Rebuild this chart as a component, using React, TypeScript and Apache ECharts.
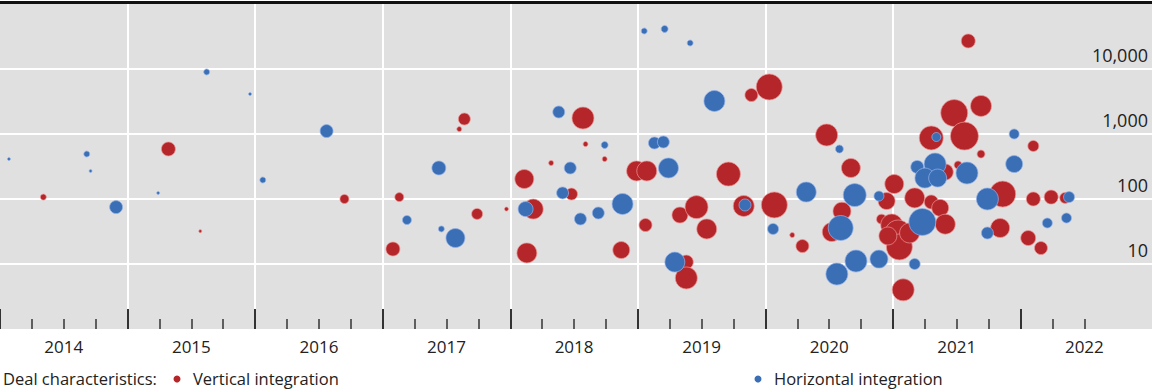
import React, { useEffect, useRef } from "react";
import * as echarts from "echarts";

// Year bands shown along the bottom
const years = [2014, 2015, 2016, 2017, 2018, 2019, 2020, 2021, 2022];
// Quarter tick positions (short ticks)
const quarterTicks = [
  2014.25, 2014.5, 2014.75, 2015.25, 2015.5, 2015.75, 2016.25, 2016.5, 2016.75,
  2017.25, 2017.5, 2017.75, 2018.25, 2018.5, 2018.75, 2019.25, 2019.5, 2019.75,
  2020.25, 2020.5, 2020.75, 2021.25, 2021.5, 2021.75, 2022.25, 2022.5,
];
const valueTicks = [10, 100, 1000, 10000];

// Vertical integration deals: date, deal value, bubble size
const verticalDates = [
  2014.34, 2015.32, 2015.57, 2016.7, 2017.08, 2017.13, 2017.64, 2017.6, 2017.74, 2017.97,
  2018.11, 2018.18, 2018.13, 2018.57, 2018.59, 2018.32, 2018.74, 2018.48, 2018.87, 2019.06,
  2018.99, 2019.07, 2019.33, 2019.46, 2019.54, 2019.38, 2019.38, 2019.71, 2019.83, 2019.89,
  2020.03, 2020.07, 2020.21, 2020.29, 2020.48, 2020.67, 2020.6, 2020.52, 2020.95, 2021.01,
  2020.91, 2020.99, 2021.04, 2021.05, 2021.13, 2020.96, 2021.08, 2021.17, 2021.3, 2021.37,
  2021.41, 2021.41, 2021.51, 2021.59, 2021.48, 2021.69, 2021.56, 2021.3, 2021.69, 2021.86,
  2021.84, 2022.1, 2022.1, 2022.24, 2022.35, 2022.06, 2022.16,
];
const verticalValues = [
  107, 588, 32, 100, 17, 107, 1700, 1190, 59, 70,
  203, 70, 14.8, 1760, 700, 358, 412, 119, 16.4, 39.8,
  270, 270, 56.7, 75, 34.6, 10.7, 6.1, 242, 78, 3980,
  5290, 81, 27.9, 18.9, 965, 300, 65, 31, 93, 170,
  49, 39.8, 30, 18.3, 30, 27, 4.0, 104, 90, 73,
  41, 260, 334, 27000, 2100, 2700, 930, 870, 492, 119,
  35.8, 654, 100, 107, 104, 25.1, 17.6,
];
const verticalSizes = [
  6, 14, 3, 9, 14, 9, 12, 5, 11, 4,
  19, 20, 20, 22, 5, 5, 5, 12, 17, 13,
  20, 20, 16, 23, 20, 14, 22, 24, 21, 13,
  26, 26, 5, 13, 22, 19, 18, 19, 17, 19,
  10, 22, 26, 26, 20, 18, 22, 20, 14, 17,
  20, 16, 8, 14, 27, 21, 28, 24, 8, 26,
  19, 11, 14, 14, 11, 15, 13,
];

// Horizontal integration deals: date, deal value, bubble size
const horizontalDates = [
  2014.07, 2014.68, 2014.71, 2014.91, 2015.24, 2015.62, 2015.96, 2016.06, 2016.56, 2017.19,
  2017.46, 2017.44, 2017.57, 2018.12, 2018.38, 2018.47, 2018.41, 2018.55, 2018.69, 2018.74,
  2018.88, 2019.05, 2019.21, 2019.41, 2019.13, 2019.2, 2019.24, 2019.29, 2019.6, 2019.84,
  2020.06, 2020.32, 2020.58, 2020.7, 2020.59, 2020.56, 2020.71, 2020.89, 2020.89, 2021.17,
  2021.23, 2021.19, 2021.33, 2021.25, 2021.35, 2021.34, 2021.58, 2021.74, 2021.74, 2021.95,
  2021.95, 2022.38, 2022.21, 2022.36,
];
const horizontalValues = [
  412, 492, 270, 75, 124, 9000, 4120, 196, 1110, 47.5,
  34.6, 300, 25.1, 70, 2180, 300, 124, 49.3, 60.9, 677,
  83.8, 38400, 41300, 25100, 727, 753, 300, 10.7, 3220, 80.9,
  34.6, 128, 588, 115, 35.8, 7.0, 11.1, 11.9, 111, 10,
  44.3, 311, 345, 210, 210, 899, 251, 100, 30, 1000,
  345, 107, 42.7, 51,
];
const horizontalSizes = [
  3, 6, 3, 13, 3, 6, 3, 6, 13, 9,
  6, 14, 19, 15, 12, 12, 12, 12, 12, 7,
  21, 6, 7, 6, 12, 12, 20, 20, 21, 12,
  11, 20, 8, 23, 25, 22, 22, 18, 10, 11,
  27, 13, 22, 20, 18, 9, 22, 22, 12, 10,
  17, 11, 10, 10,
];

const RED = "#b5262a";
const BLUE = "#3a6fb6";
const FONT = "'Open Sans', 'Noto Sans', sans-serif";

const zip = (d: number[], v: number[], s: number[]) => d.map((x, i) => [x, v[i], s[i]]);

export default function App() {
  const ref = useRef<HTMLDivElement>(null);

  useEffect(() => {
    if (!ref.current) return;
    const chart = echarts.init(ref.current, null, { renderer: "svg" });
    const xMin = years[0];
    const xMax = years[0] + 1152 / 127.57;
    const legendText = { font: `16.5px ${FONT}`, fill: "#222", verticalAlign: "middle", lineHeight: 17 };

    chart.setOption({
      animation: false,
      grid: {
        left: 0,
        right: 0,
        top: 4,
        bottom: 60,
        show: true,
        backgroundColor: "#e0e0e0",
        borderWidth: 0,
      },
      xAxis: [
        {
          type: "value",
          min: xMin,
          max: xMax,
          position: "bottom",
          axisLine: { show: false },
          axisTick: {
            show: true,
            inside: true,
            length: 20,
            customValues: years,
            lineStyle: { color: "#333", width: 2 },
          },
          axisLabel: {
            show: true,
            customValues: years.map((y) => y + 0.5),
            formatter: (v: number) => String(Math.floor(v)),
            fontFamily: FONT,
            fontSize: 17,
            color: "#222",
            margin: 9,
          },
          splitLine: {
            show: true,
            showMinLine: false,
            showMaxLine: false,
            lineStyle: { color: "#ffffff", width: 2 },
          },
        },
        {
          type: "value",
          min: xMin,
          max: xMax,
          position: "bottom",
          axisLine: { show: false },
          axisTick: {
            show: true,
            inside: true,
            length: 10,
            customValues: quarterTicks,
            lineStyle: { color: "#333", width: 1.5 },
          },
          axisLabel: { show: false },
          splitLine: { show: false },
        },
      ],
      yAxis: {
        type: "log",
        logBase: 10,
        min: 1,
        max: 100000,
        position: "right",
        axisLine: { show: false },
        axisTick: { show: false },
        axisLabel: {
          inside: true,
          showMinLabel: false,
          showMaxLabel: false,
          margin: 4,
          verticalAlign: "bottom",
          padding: [0, 0, 5, 0],
          fontFamily: FONT,
          fontSize: 18,
          color: "#222",
          formatter: (v: number) =>
            valueTicks.includes(Math.round(v)) ? Math.round(v).toLocaleString("en-US") : "",
        },
        splitLine: {
          show: true,
          showMinLine: false,
          showMaxLine: false,
          lineStyle: { color: "#ffffff", width: 2 },
        },
      },
      series: [
        {
          name: "Vertical integration",
          type: "scatter",
          xAxisIndex: 0,
          data: zip(verticalDates, verticalValues, verticalSizes),
          symbolSize: (v: number[]) => v[2],
          itemStyle: { color: RED, opacity: 1, borderColor: "rgba(240,150,150,0.7)", borderWidth: 1 },
          emphasis: { disabled: true },
          z: 2,
        },
        {
          name: "Horizontal integration",
          type: "scatter",
          xAxisIndex: 0,
          data: zip(horizontalDates, horizontalValues, horizontalSizes),
          symbolSize: (v: number[]) => v[2],
          itemStyle: { color: BLUE, opacity: 1, borderColor: "rgba(150,180,235,0.7)", borderWidth: 1 },
          emphasis: { disabled: true },
          z: 3,
        },
      ],
      graphic: [
        { type: "rect", shape: { x: 0, y: 1, width: 1152, height: 3 }, style: { fill: "#111" }, z: 10 },
        { type: "text", x: 3, y: 378, style: { text: "Deal characteristics:", ...legendText } },
        { type: "circle", shape: { cx: 177, cy: 379, r: 3.5 }, style: { fill: RED } },
        { type: "text", x: 193, y: 378, style: { text: "Vertical integration", ...legendText } },
        { type: "circle", shape: { cx: 758, cy: 379, r: 3.5 }, style: { fill: BLUE } },
        { type: "text", x: 774, y: 378, style: { text: "Horizontal integration", ...legendText } },
      ],
    });

    return () => chart.dispose();
  }, []);

  return (
    <div
      ref={ref}
      style={{ position: "absolute", left: 0, top: 0, width: 1152, height: 389, background: "#fff" }}
    />
  );
}
